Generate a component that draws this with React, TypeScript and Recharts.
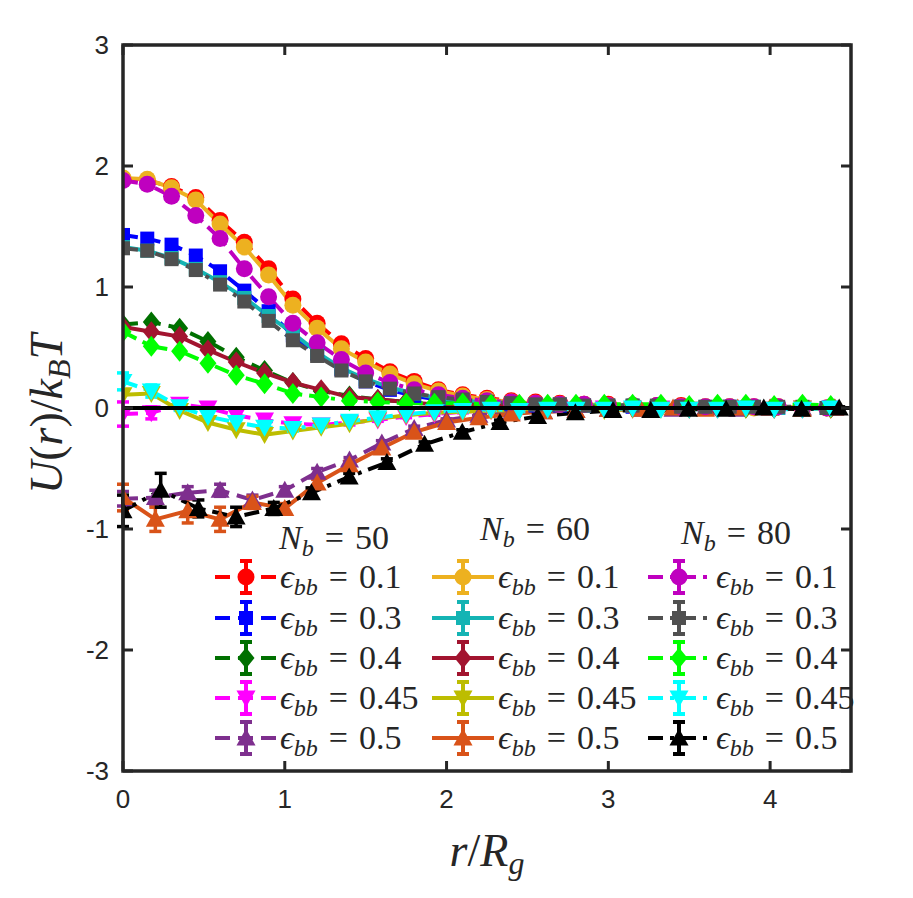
import React from 'react';
import { LineChart, Line, XAxis, YAxis, ErrorBar, ReferenceLine, ReferenceArea } from 'recharts';

// radial grids (r / R_g) used by the different runs
const rA = [0, 0.15, 0.3, 0.45, 0.6, 0.75, 0.9, 1.05, 1.2, 1.35, 1.5, 1.65, 1.8, 1.95, 2.1, 2.25, 2.4, 2.55, 2.7, 2.85, 3.0, 3.15, 3.3, 3.45, 3.6, 3.75, 3.9, 4.05, 4.2, 4.35];
const rB = [0, 0.175, 0.35, 0.525, 0.7, 0.875, 1.05, 1.225, 1.4, 1.575, 1.75, 1.925, 2.1, 2.275, 2.45, 2.625, 2.8, 2.975, 3.15, 3.325, 3.5, 3.675, 3.85, 4.025, 4.2, 4.375];
const rC = [0, 0.2, 0.4, 0.6, 0.8, 1.0, 1.2, 1.4, 1.6, 1.8, 2.0, 2.2, 2.4, 2.6, 2.8, 3.0, 3.2, 3.4, 3.6, 3.8, 4.0, 4.2, 4.4];
const rD = [0, 0.233, 0.466, 0.699, 0.932, 1.165, 1.398, 1.631, 1.864, 2.097, 2.33, 2.563, 2.796, 3.029, 3.262, 3.495, 3.728, 3.961, 4.194, 4.427];

// N_b = 50
const nb50e01 = [1.89, 1.88, 1.83, 1.74, 1.55, 1.37, 1.15, 0.90, 0.70, 0.53, 0.41, 0.30, 0.22, 0.15, 0.11, 0.08, 0.06, 0.05, 0.04, 0.03, 0.03, 0.02, 0.02, 0.02, 0.01, 0.01, 0.01, 0.01, 0.00, 0.00];
const nb50e03 = [1.43, 1.40, 1.35, 1.26, 1.13, 0.97, 0.80, 0.60, 0.45, 0.32, 0.22, 0.15, 0.10, 0.07, 0.05, 0.04, 0.03, 0.02, 0.02, 0.02, 0.01, 0.01, 0.01, 0.01, 0.00, 0.01, 0.00, 0.00, 0.00, 0.00];
const nb50e04 = [0.69, 0.71, 0.66, 0.55, 0.42, 0.31, 0.21, 0.14, 0.10, 0.07, 0.05, 0.03, 0.03, 0.02, 0.02, 0.01, 0.01, 0.01, 0.01, 0.01, 0.00, 0.01, 0.00, 0.00, 0.01, 0.00];
const nb50e045 = [-0.05, -0.04, 0.03, 0.00, -0.06, -0.10, -0.13, -0.14, -0.12, -0.10, -0.07, -0.05, -0.03, -0.02, -0.02, -0.01, -0.01, 0.00, -0.01, 0.00, -0.01, 0.00, 0.00, -0.01, 0.00, 0.00];
const nb50e05 = [-0.75, -0.74, -0.70, -0.68, -0.76, -0.68, -0.53, -0.43, -0.29, -0.17, -0.10, -0.06, -0.04, -0.03, -0.02, -0.01, -0.01, -0.01, 0.00, -0.01, 0.00, 0.00, 0.00];

// N_b = 60
const nb60e01 = [1.90, 1.89, 1.82, 1.72, 1.52, 1.33, 1.10, 0.85, 0.66, 0.49, 0.38, 0.28, 0.20, 0.14, 0.10, 0.07, 0.05, 0.04, 0.03, 0.03, 0.02, 0.02, 0.01, 0.01, 0.01, 0.01, 0.00, 0.01, 0.00, 0.00];
const nb60e03 = [1.33, 1.30, 1.24, 1.15, 1.04, 0.91, 0.76, 0.62, 0.46, 0.33, 0.24, 0.17, 0.12, 0.08, 0.06, 0.05, 0.04, 0.03, 0.03, 0.02, 0.02, 0.02, 0.01, 0.01, 0.01, 0.01, 0.01, 0.00, 0.00, 0.00];
const nb60e04 = [0.67, 0.63, 0.59, 0.48, 0.38, 0.29, 0.21, 0.15, 0.09, 0.07, 0.05, 0.03, 0.03, 0.02, 0.02, 0.01, 0.01, 0.01, 0.01, 0.01, 0.01, 0.00, 0.01, 0.00, 0.00, 0.00];
const nb60e045 = [0.11, 0.12, -0.02, -0.12, -0.18, -0.22, -0.19, -0.16, -0.13, -0.09, -0.06, -0.04, -0.03, -0.02, -0.02, -0.01, -0.01, -0.02, -0.01, -0.01, -0.01, 0.00, -0.01, -0.01, 0.00, -0.01];
const nb60e05 = [-0.74, -0.92, -0.85, -0.92, -0.78, -0.83, -0.62, -0.47, -0.33, -0.20, -0.12, -0.08, -0.05, -0.03, -0.02, -0.01, -0.01, 0.00, -0.01, 0.00, 0.00, -0.01, 0.00];

// N_b = 80
const nb80e01 = [1.88, 1.85, 1.75, 1.59, 1.40, 1.15, 0.92, 0.70, 0.54, 0.40, 0.29, 0.21, 0.15, 0.11, 0.08, 0.06, 0.05, 0.04, 0.03, 0.03, 0.02, 0.02, 0.02, 0.01, 0.01, 0.01, 0.01, 0.01, 0.00, 0.00];
const nb80e03 = [1.32, 1.30, 1.23, 1.14, 1.02, 0.88, 0.72, 0.56, 0.43, 0.31, 0.22, 0.16, 0.12, 0.09, 0.07, 0.05, 0.04, 0.03, 0.03, 0.02, 0.02, 0.02, 0.02, 0.01, 0.01, 0.01, 0.01, 0.01, 0.01, 0.00];
const nb80e04 = [0.63, 0.51, 0.47, 0.37, 0.27, 0.20, 0.12, 0.09, 0.06, 0.05, 0.04, 0.04, 0.04, 0.03, 0.03, 0.03, 0.03, 0.03, 0.03, 0.03, 0.02, 0.03, 0.03, 0.02, 0.03, 0.02];
const nb80e045 = [0.22, 0.14, 0.01, -0.07, -0.12, -0.16, -0.17, -0.14, -0.11, -0.08, -0.05, -0.03, -0.02, -0.01, -0.02, -0.01, -0.01, -0.01, 0.00, -0.01, -0.01, -0.01, 0.00, -0.01, -0.01, 0.00];
const nb80e05 = [-0.85, -0.68, -0.83, -0.90, -0.83, -0.70, -0.57, -0.45, -0.30, -0.20, -0.12, -0.07, -0.04, -0.02, -0.02, -0.01, -0.01, 0.00, -0.01, 0.00];

// standard errors (only the runs where they are visible)
const nb50e045Err = [0.10, 0.05, 0.04, 0.03, 0.03, 0.02, 0.02, 0.02, 0.02, 0.01, 0.01, 0.01, 0.01, 0.01, 0.01, 0.01, 0.01, 0.01, 0.01, 0.01, 0.01, 0.01, 0.01, 0.01, 0.01, 0.01];
const nb50e05Err = [0.06, 0.06, 0.05, 0.05, 0.04, 0.03, 0.03, 0.02, 0.02, 0.02, 0.01, 0.01, 0.01, 0.01, 0.01, 0.01, 0.01, 0.01, 0.01, 0.01, 0.01, 0.01, 0.01];
const nb60e05Err = [0.11, 0.10, 0.10, 0.10, 0.05, 0.04, 0.03, 0.03, 0.02, 0.02, 0.02, 0.01, 0.01, 0.01, 0.01, 0.01, 0.01, 0.01, 0.01, 0.01, 0.01, 0.01, 0.01];
const nb80e045Err = [0.07, 0.05, 0.03, 0.03, 0.02, 0.02, 0.02, 0.02, 0.01, 0.01, 0.01, 0.01, 0.01, 0.01, 0.01, 0.01, 0.01, 0.01, 0.01, 0.01, 0.01, 0.01, 0.01, 0.01, 0.01, 0.01];
const nb80e05Err = [0.13, 0.14, 0.07, 0.08, 0.05, 0.04, 0.03, 0.03, 0.02, 0.02, 0.02, 0.02, 0.01, 0.01, 0.01, 0.01, 0.01, 0.01, 0.01, 0.01];

const xTicks = [0, 1, 2, 3, 4];
const yTicks = [-3, -2, -1, 0, 1, 2, 3];
const groupLabels = ['50', '60', '80'];
const epsLabels = ['0.1', '0.3', '0.4', '0.45', '0.5'];

type Shape = 'circle' | 'square' | 'diamond' | 'down' | 'up';

interface Series {
  id: string;
  r: number[];
  u: number[];
  err?: number[];
  color: string;
  shape: Shape;
  dash?: string;
}

const DASH = '15 8';
const DASHDOT = '15 7 4 7';

// plotted in column order: N_b = 50, 60, 80
const series: Series[] = [
  { id: '50-0.1', r: rA, u: nb50e01, color: '#FF0000', shape: 'circle', dash: DASH },
  { id: '50-0.3', r: rA, u: nb50e03, color: '#0000FF', shape: 'square', dash: DASH },
  { id: '50-0.4', r: rB, u: nb50e04, color: '#007000', shape: 'diamond', dash: DASH },
  { id: '50-0.45', r: rB, u: nb50e045, err: nb50e045Err, color: '#FF00FF', shape: 'down', dash: DASH },
  { id: '50-0.5', r: rC, u: nb50e05, err: nb50e05Err, color: '#7E2F8E', shape: 'up', dash: DASH },
  { id: '60-0.1', r: rA, u: nb60e01, color: '#EDB120', shape: 'circle' },
  { id: '60-0.3', r: rA, u: nb60e03, color: '#14B4B4', shape: 'square' },
  { id: '60-0.4', r: rB, u: nb60e04, color: '#A2142F', shape: 'diamond' },
  { id: '60-0.45', r: rB, u: nb60e045, color: '#BDBD00', shape: 'down' },
  { id: '60-0.5', r: rC, u: nb60e05, err: nb60e05Err, color: '#D95319', shape: 'up' },
  { id: '80-0.1', r: rA, u: nb80e01, color: '#BF00BF', shape: 'circle', dash: DASHDOT },
  { id: '80-0.3', r: rA, u: nb80e03, color: '#505050', shape: 'square', dash: DASHDOT },
  { id: '80-0.4', r: rB, u: nb80e04, color: '#00FF00', shape: 'diamond', dash: DASHDOT },
  { id: '80-0.45', r: rB, u: nb80e045, err: nb80e045Err, color: '#00FFFF', shape: 'down', dash: DASHDOT },
  { id: '80-0.5', r: rD, u: nb80e05, err: nb80e05Err, color: '#000000', shape: 'up', dash: DASHDOT },
];

const W = 905;
const H = 890;
const AXIS = '#262626';
const SERIF = "'Liberation Serif', 'DejaVu Serif', serif";
const SANS = "'Liberation Sans', Arial, sans-serif";
const LW = 4;
const TICK_LEN = 10;
const TICK_FONT = 26;

const Marker = ({ shape, color, cx, cy }: { shape: Shape; color: string; cx: number; cy: number }) => {
  switch (shape) {
    case 'circle':
      return <circle cx={cx} cy={cy} r={8.5} fill={color} />;
    case 'square':
      return <rect x={cx - 7} y={cy - 7} width={14} height={14} fill={color} />;
    case 'diamond':
      return <polygon points={`${cx},${cy - 10.5} ${cx + 8.5},${cy} ${cx},${cy + 10.5} ${cx - 8.5},${cy}`} fill={color} />;
    case 'down':
      return <polygon points={`${cx - 9.5},${cy - 7.5} ${cx + 9.5},${cy - 7.5} ${cx},${cy + 9.5}`} fill={color} />;
    default:
      return <polygon points={`${cx - 9.5},${cy + 7.5} ${cx + 9.5},${cy + 7.5} ${cx},${cy - 9.5}`} fill={color} />;
  }
};

const dotRenderer = (s: Series) => (props: any) => {
  const { cx, cy, index } = props;
  if (cx == null || cy == null) return <g key={`${s.id}-${index}`} />;
  return (
    <g key={`${s.id}-${index}`}>
      <Marker shape={s.shape} color={s.color} cx={cx} cy={cy} />
    </g>
  );
};

// inward ticks, MATLAB style; tickSize is 0 so (x, y) sit tickMargin away from the axis line
const BOTTOM_GAP = 18;
const LEFT_GAP = 14;

const BottomTick = (props: any) => {
  const { x, y, payload } = props;
  const axisY = y - BOTTOM_GAP;
  return (
    <g>
      <line x1={x} y1={axisY} x2={x} y2={axisY - TICK_LEN} stroke={AXIS} strokeWidth={3} />
      <text x={x} y={y} dy={TICK_FONT * 0.74} textAnchor="middle" fontFamily={SANS} fontSize={TICK_FONT} fill={AXIS}>
        {payload.value}
      </text>
    </g>
  );
};

const LeftTick = (props: any) => {
  const { x, y, payload } = props;
  const axisX = x + LEFT_GAP;
  return (
    <g>
      <line x1={axisX} y1={y} x2={axisX + TICK_LEN} y2={y} stroke={AXIS} strokeWidth={3} />
      <text x={x} y={y} dy={TICK_FONT * 0.36} textAnchor="end" fontFamily={SANS} fontSize={TICK_FONT} fill={AXIS}>
        {payload.value}
      </text>
    </g>
  );
};

const TopTick = (props: any) => {
  const { x, y } = props;
  return <line x1={x} y1={y} x2={x} y2={y + TICK_LEN} stroke={AXIS} strokeWidth={3} />;
};

const RightTick = (props: any) => {
  const { x, y } = props;
  return <line x1={x} y1={y} x2={x - TICK_LEN} y2={y} stroke={AXIS} strokeWidth={3} />;
};

// legend layout (chart coordinates)
const colIconX = [207, 424, 640];
const colTextX = [272, 490, 708];
const rowY = [569, 610, 650, 690, 730];
const headerPos = [
  { x: 326, y: 541 },
  { x: 527, y: 532 },
  { x: 728, y: 536 },
];

const LegendIcon = ({ s, x, y }: { s: Series; x: number; y: number }) => (
  <g>
    <line x1={x} y1={y} x2={x + 62} y2={y} stroke={s.color} strokeWidth={LW} strokeDasharray={s.dash} />
    <line x1={x + 31} y1={y - 16} x2={x + 31} y2={y + 16} stroke={s.color} strokeWidth={LW} />
    <line x1={x + 25} y1={y - 16} x2={x + 37} y2={y - 16} stroke={s.color} strokeWidth={LW} />
    <line x1={x + 25} y1={y + 16} x2={x + 37} y2={y + 16} stroke={s.color} strokeWidth={LW} />
    <Marker shape={s.shape} color={s.color} cx={x + 31} cy={y} />
  </g>
);

const Overlay = () => (
  <svg width={W} height={H} style={{ position: 'absolute', left: 0, top: 0, pointerEvents: 'none' }}>
    {/* y title: U(r)/k_B T */}
    <text transform="translate(54, 406) rotate(-90)" textAnchor="middle" fontFamily={SERIF} fontSize={46} fill={AXIS}>
      <tspan fontStyle="italic">U</tspan>
      <tspan>(</tspan>
      <tspan fontStyle="italic">r</tspan>
      <tspan>)/</tspan>
      <tspan fontStyle="italic">k</tspan>
      <tspan fontStyle="italic" fontSize={32} dy={8}>B</tspan>
      <tspan fontStyle="italic" dy={-8}>T</tspan>
    </text>
    {/* x title: r/R_g */}
    <text x={479} y={858} textAnchor="middle" fontFamily={SERIF} fontSize={46} fill={AXIS}>
      <tspan fontStyle="italic">r</tspan>
      <tspan>/</tspan>
      <tspan fontStyle="italic">R</tspan>
      <tspan fontStyle="italic" fontSize={32} dy={8}>g</tspan>
    </text>
    {groupLabels.map((g, gi) => (
      <text key={g} x={headerPos[gi].x} y={headerPos[gi].y} textAnchor="middle" fontFamily={SERIF} fontSize={34} fill={AXIS}>
        <tspan fontStyle="italic">N</tspan>
        <tspan fontStyle="italic" fontSize={24} dy={7}>b</tspan>
        <tspan dy={-7} dx={11}>=</tspan>
        <tspan dx={11}>{g}</tspan>
      </text>
    ))}
    {groupLabels.map((g, gi) =>
      epsLabels.map((e, ei) => {
        const s = series[gi * 5 + ei];
        return (
          <g key={`${g}-${e}`}>
            <LegendIcon s={s} x={colIconX[gi]} y={rowY[ei]} />
            <text x={colTextX[gi]} y={rowY[ei] + 11} fontFamily={SERIF} fontSize={34} fill={AXIS}>
              <tspan fontStyle="italic">ϵ</tspan>
              <tspan fontStyle="italic" fontSize={24} dy={7}>bb</tspan>
              <tspan dy={-7} dx={11}>=</tspan>
              <tspan dx={11}>{e}</tspan>
            </text>
          </g>
        );
      })
    )}
  </svg>
);

const App: React.FC = () => {
  return (
    <div style={{ position: 'relative', width: W, height: H, background: '#fff' }}>
      <LineChart width={W} height={H} margin={{ top: 35, right: 60, bottom: 67, left: 55 }}>
        <XAxis
          xAxisId={0}
          type="number"
          dataKey="r"
          domain={[0, 4.5]}
          ticks={xTicks}
          allowDataOverflow
          height={60}
          axisLine={false}
          tickLine={false}
          tickSize={0}
          tickMargin={BOTTOM_GAP}
          tick={<BottomTick />}
        />
        <XAxis
          xAxisId="top"
          orientation="top"
          type="number"
          dataKey="r"
          domain={[0, 4.5]}
          ticks={xTicks}
          allowDataOverflow
          height={2}
          axisLine={false}
          tickLine={false}
          tickSize={0}
          tickMargin={0}
          tick={<TopTick />}
        />
        <YAxis
          yAxisId={0}
          type="number"
          domain={[-3, 3]}
          ticks={yTicks}
          allowDataOverflow
          width={60}
          axisLine={false}
          tickLine={false}
          tickSize={0}
          tickMargin={LEFT_GAP}
          tick={<LeftTick />}
        />
        <YAxis
          yAxisId="right"
          orientation="right"
          type="number"
          domain={[-3, 3]}
          ticks={yTicks}
          allowDataOverflow
          width={2}
          axisLine={false}
          tickLine={false}
          tickSize={0}
          tickMargin={0}
          tick={<RightTick />}
        />
        {series.map((s) => {
          const rows = s.r.map((r, i) => ({ r, u: s.u[i], e: s.err ? s.err[i] : undefined }));
          return (
            <Line
              key={s.id}
              data={rows}
              dataKey="u"
              type="linear"
              stroke={s.color}
              strokeWidth={LW}
              strokeDasharray={s.dash}
              dot={dotRenderer(s)}
              activeDot={false}
              isAnimationActive={false}
            >
              {s.err && <ErrorBar dataKey="e" width={6} strokeWidth={LW - 0.5} stroke={s.color} direction="y" />}
            </Line>
          );
        })}
        {/* zero line sits above the markers */}
        <ReferenceLine y={0} stroke="#000" strokeWidth={4} zIndex={900} />
        {/* axes box */}
        <ReferenceArea x1={0} x2={4.5} y1={-3} y2={3} fill="none" stroke={AXIS} strokeWidth={3.5} ifOverflow="visible" zIndex={950} />
      </LineChart>
      <Overlay />
    </div>
  );
};

export default App;
